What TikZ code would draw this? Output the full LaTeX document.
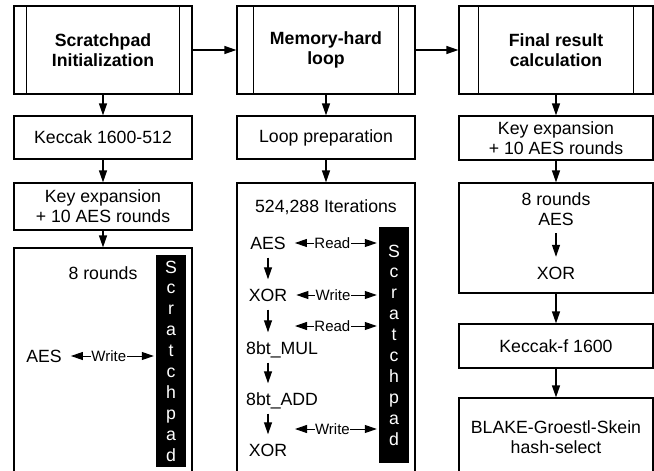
\documentclass[tikz,border=0pt]{standalone}
\usepackage{fontspec}
\setmainfont{Liberation Sans}
\usetikzlibrary{calc,arrows.meta}
\newcommand{\mainsize}{\fontsize{17.7}{20}\selectfont}

\tikzset{
  box/.style={draw, line width=1.2pt, minimum width=178pt, inner sep=0pt, align=center},
  op/.style={inner sep=0pt, text height=13pt, text depth=0pt},
  lbl/.style={fill=white, inner xsep=0.5pt, inner ysep=1pt, font=\fontsize{15}{17}\selectfont},
  flow/.style={line width=1.2pt, -{Triangle[length=12pt,width=8pt]}},
  down/.style={flow, shorten <=8pt, shorten >=9pt},
  rw/.style={line width=1pt, {Triangle[length=12pt,width=8pt]}-{Triangle[length=12pt,width=8pt]}, shorten <=9pt, shorten >=2pt},
  pad/.style={fill=black, text=white, inner sep=0pt, minimum width=30pt, align=center, font=\fontsize{17.7}{20.9}\selectfont}
}

\begin{document}
\begin{tikzpicture}[x=1pt, y=-1pt, font=\mainsize]
		%%%%% START %%%%%
		\useasboundingbox (0,0) rectangle (654,471);
		
		% stage boxes
		\node[box, minimum height=88pt, font=\mainsize\bfseries] (init) at (103,50) {Scratchpad\\Initialization};
		\node[box, minimum height=88pt, font=\mainsize\bfseries] (loop) at (326,50) {Memory-hard\\loop};
		\node[box, minimum height=88pt, minimum width=194pt, font=\mainsize\bfseries] (final) at (556,50) {Final result\\calculation};
		\foreach \n/\d in {init/13, loop/17, final/20}{
			\draw[line width=1.2pt] ($(\n.north west)+(\d,0)$) -- ($(\n.south west)+(\d,0)$);
			\draw[line width=1.2pt] ($(\n.north east)+(-\d,0)$) -- ($(\n.south east)+(-\d,0)$);
		}
		\draw[flow] (init) -- (loop);
		\draw[flow] (loop) -- (final);
		
		% scratchpad initialization
		\node[box, minimum height=43pt] (kec) at (103,137.5) {Keccak 1600-512};
		\node[box, minimum height=47pt] (keyA) at (103,206.5) {Key expansion\\+ 10 AES rounds};
		\node[box, minimum height=228pt] (rndA) at (103,362) {};
		\node[pad, minimum height=212pt] (padA) at (171,361) {S\\c\\r\\a\\t\\c\\h\\p\\a\\d};
		\node[op] (titA) at (103,273) {8 rounds};
		\node[op] (aesA) at (44,356) {AES};
		\draw[flow] (init) -- (kec);
		\draw[flow] (kec) -- (keyA);
		\draw[flow] (keyA) -- (rndA);
		\draw[rw] (aesA.east) -- node[lbl]{Write} (aesA.east -| padA.west);
		
		% memory-hard loop
		\node[box, minimum height=43pt] (prep) at (326,137.5) {Loop preparation};
		\node[box, minimum height=293pt] (iter) at (326,329.5) {};
		\node[pad, minimum height=236pt] (padB) at (394,345) {S\\c\\r\\a\\t\\c\\h\\p\\a\\d};
		\node[op] (titB) at (326,206) {524,288 Iterations};
		\node[op] (aesB) at (268,243) {AES};
		\node[op] (xorB) at (268,295) {XOR};
		\node[op, anchor=west] (mulB) at (246,348) {8bt\_MUL};
		\node[op, anchor=west] (addB) at (246,399) {8bt\_ADD};
		\node[op] (xorC) at (268,450) {XOR};
		\coordinate (rdB) at (286,326);
		\coordinate (wrB) at (286,429);
		\draw[flow] (loop) -- (prep);
		\draw[flow] (prep) -- (iter);
		\draw[down] (aesB) -- (xorB);
		\draw[down] (xorB.south) -- (xorB.south |- mulB.north);
		\draw[down] (mulB.south -| xorB) -- (addB.north -| xorB);
		\draw[down] (addB.south -| xorB) -- (xorC);
		\draw[rw] (aesB.east) -- node[lbl]{Read} (aesB.east -| padB.west);
		\draw[rw] (xorB.east) -- node[lbl]{Write} (xorB.east -| padB.west);
		\draw[rw] (rdB) -- node[lbl]{Read} (rdB -| padB.west);
		\draw[rw] (wrB) -- node[lbl]{Write} (wrB -| padB.west);
		
		% final result calculation
		\node[box, minimum height=44pt, minimum width=194pt] (keyC) at (556,138) {Key expansion\\+ 10 AES rounds};
		\node[box, minimum height=110pt, minimum width=194pt] (rndC) at (556,238) {};
		\node[op] (titC) at (556,198.5) {8 rounds};
		\node[op] (aesC) at (556,218.5) {AES};
		\node[op] (xorD) at (556,272.5) {XOR};
		\node[box, minimum height=44pt, minimum width=194pt] (kecf) at (556,346) {Keccak-f 1600};
		\node[box, minimum height=78pt, minimum width=194pt] (hsel) at (556,437) {BLAKE-Groestl-Skein\\hash-select};
		\draw[flow] (final) -- (keyC);
		\draw[flow] (keyC) -- (rndC);
		\draw[down] (aesC) -- (xorD);
		\draw[flow] (rndC) -- (kecf);
		\draw[flow] (kecf) -- (hsel);
		
		%%%%% END %%%%%
\end{tikzpicture}
\end{document}
